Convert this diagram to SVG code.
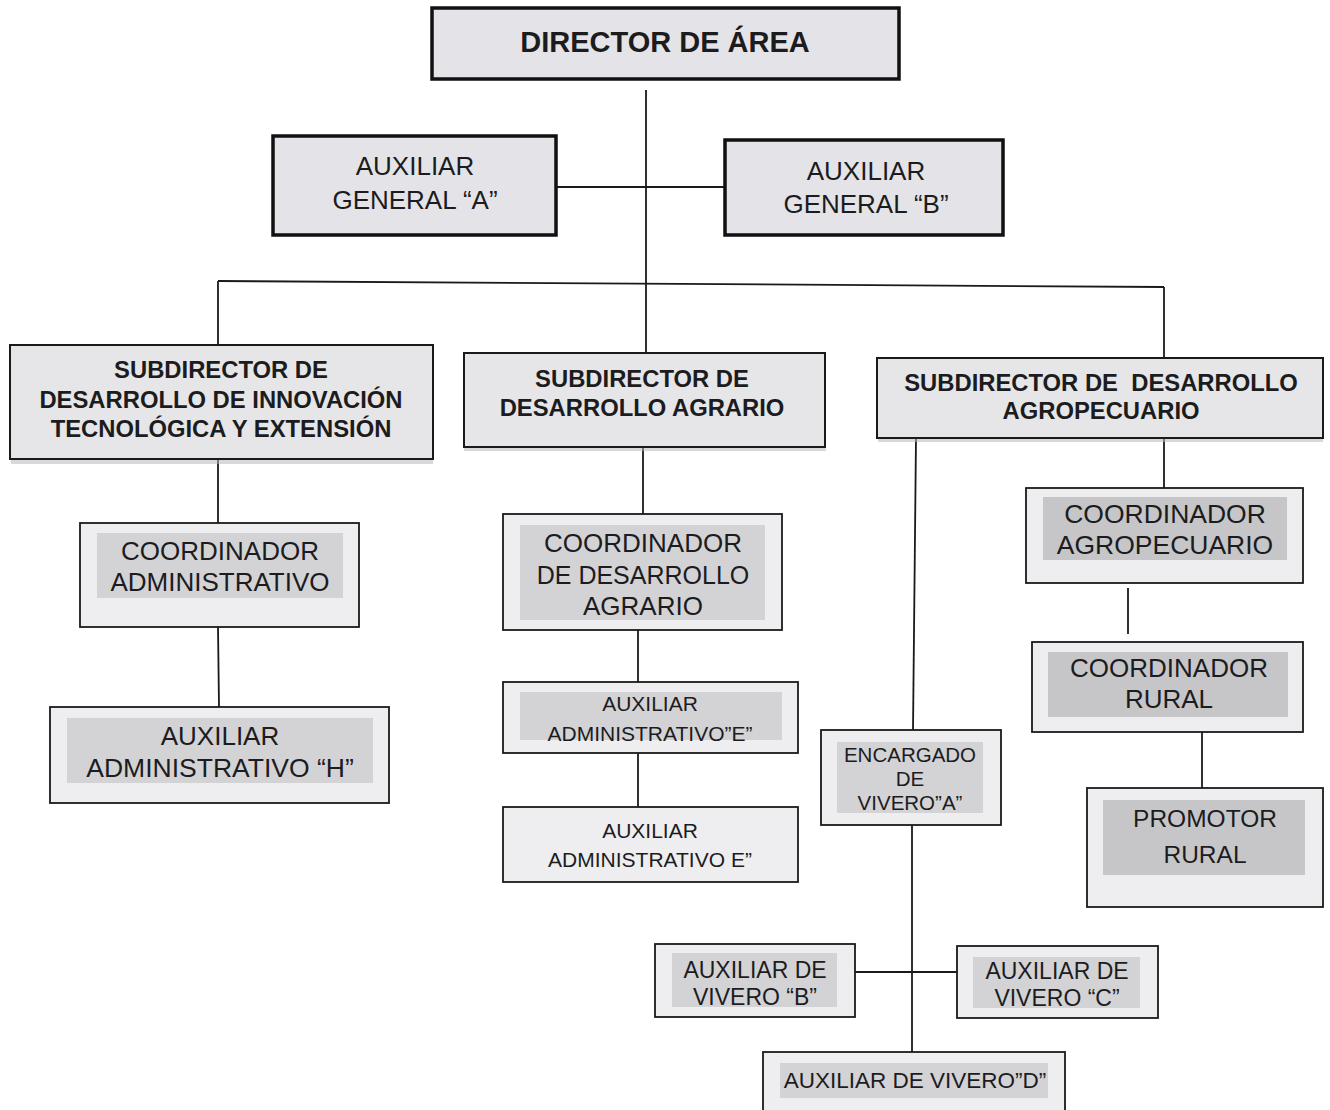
<svg xmlns="http://www.w3.org/2000/svg" width="1330" height="1110" viewBox="0 0 1330 1110">
  <style>
    text { font-family: "Liberation Sans", Arial, sans-serif; fill: #1c1c1e; text-anchor: middle; }
    .bold { font-weight: bold; }
    .box { fill: #eeeef0; stroke: #1a1a1a; stroke-width: 1.8; }
    .box-heavy { fill: #e4e4e8; stroke: #111; stroke-width: 3.5; }
    .box-sub { fill: #e6e6e8; stroke: #1a1a1a; stroke-width: 2; }
    .shade { fill: #b8b8bc; opacity: 0.55; }
    .inner { fill: #d3d3d6; }
    .inner-dark { fill: #c6c6c9; }
    .link { stroke: #1a1a1a; stroke-width: 1.8; fill: none; }
  </style>

  <rect width="1330" height="1110" fill="#ffffff"/>

  <!-- connectors -->
  <g id="connectors">
    <line class="link" x1="646" y1="90" x2="646" y2="353"/>
    <line class="link" x1="556" y1="187" x2="725" y2="187"/>
    <line class="link" x1="218" y1="281" x2="1164" y2="287"/>
    <line class="link" x1="218" y1="281" x2="218" y2="345"/>
    <line class="link" x1="1164" y1="287" x2="1164" y2="358"/>
    <!-- left branch -->
    <line class="link" x1="218" y1="460" x2="218" y2="523"/>
    <line class="link" x1="218" y1="627" x2="219" y2="707"/>
    <!-- middle branch -->
    <line class="link" x1="643" y1="447" x2="643" y2="514"/>
    <line class="link" x1="638" y1="630" x2="638" y2="682"/>
    <line class="link" x1="638" y1="753" x2="638" y2="807"/>
    <!-- right branch -->
    <line class="link" x1="1164" y1="438" x2="1164" y2="488"/>
    <line class="link" x1="1128" y1="588" x2="1128" y2="634" stroke-width="2.6"/>
    <line class="link" x1="1202" y1="732" x2="1202" y2="788"/>
    <line class="link" x1="916" y1="438" x2="913" y2="730"/>
    <line class="link" x1="912" y1="825" x2="912" y2="1052"/>
    <line class="link" x1="855" y1="972" x2="957" y2="972"/>
    <line class="link" x1="897" y1="972" x2="917" y2="972" stroke-width="3"/>
  </g>

  <!-- top level -->
  <g id="director">
    <rect class="box-heavy" x="432" y="8" width="467" height="71" fill="#dadade"/>
    <text class="bold" x="665" y="52" font-size="29">DIRECTOR DE ÁREA</text>
  </g>

  <g id="aux-general-a">
    <rect class="box-heavy" x="273" y="136" width="283" height="99" stroke-width="3"/>
    <text x="415" y="175" font-size="26">AUXILIAR</text>
    <text x="415" y="209" font-size="26">GENERAL “A”</text>
  </g>

  <g id="aux-general-b">
    <rect class="box-heavy" x="725" y="140" width="278" height="95" stroke-width="3"/>
    <text x="866" y="180" font-size="26">AUXILIAR</text>
    <text x="866" y="213" font-size="26">GENERAL “B”</text>
  </g>

  <!-- subdirectors -->
  <g id="sub-innovacion">
    <rect class="shade" x="11" y="459" width="422" height="5"/>
    <rect class="box-sub" x="10" y="345" width="423" height="114"/>
    <text class="bold" x="221" y="378" font-size="23.8">SUBDIRECTOR DE</text>
    <text class="bold" x="221" y="408" font-size="23.8">DESARROLLO DE INNOVACIÓN</text>
    <text class="bold" x="221" y="437" font-size="23.8">TECNOLÓGICA Y EXTENSIÓN</text>
  </g>

  <g id="sub-agrario">
    <rect class="shade" x="464" y="446" width="362" height="5"/>
    <rect class="box-sub" x="464" y="353" width="361" height="94"/>
    <text class="bold" x="642" y="387" font-size="23.8">SUBDIRECTOR DE</text>
    <text class="bold" x="642" y="416" font-size="23.8">DESARROLLO AGRARIO</text>
  </g>

  <g id="sub-agropecuario">
    <rect class="shade" x="878" y="437" width="445" height="5"/>
    <rect class="box-sub" x="877" y="358" width="446" height="80"/>
    <text class="bold" x="1101" y="391" font-size="23.8">SUBDIRECTOR DE&#160; DESARROLLO</text>
    <text class="bold" x="1101" y="419" font-size="23.8">AGROPECUARIO</text>
  </g>

  <!-- left column -->
  <g id="coord-administrativo">
    <rect class="box" x="80" y="523" width="279" height="104"/>
    <rect class="inner" x="97" y="533" width="246" height="65"/>
    <text x="220" y="560" font-size="26">COORDINADOR</text>
    <text x="220" y="591" font-size="26">ADMINISTRATIVO</text>
  </g>

  <g id="aux-admin-h">
    <rect class="box" x="50" y="707" width="339" height="96"/>
    <rect class="inner" x="67" y="718" width="306" height="65"/>
    <text x="220" y="745" font-size="26">AUXILIAR</text>
    <text x="220" y="777" font-size="26.5">ADMINISTRATIVO “H”</text>
  </g>

  <!-- middle column -->
  <g id="coord-des-agrario">
    <rect class="box" x="503" y="514" width="279" height="116"/>
    <rect class="inner" x="520" y="525" width="245" height="95"/>
    <text x="643" y="552" font-size="26">COORDINADOR</text>
    <text x="643" y="584" font-size="25">DE DESARROLLO</text>
    <text x="643" y="615" font-size="26">AGRARIO</text>
  </g>

  <g id="aux-admin-e1">
    <rect class="box" x="503" y="682" width="295" height="71"/>
    <rect class="inner" x="520" y="692" width="262" height="48"/>
    <text x="650" y="711" font-size="21">AUXILIAR</text>
    <text x="650" y="741" font-size="21">ADMINISTRATIVO”E”</text>
  </g>

  <g id="aux-admin-e2">
    <rect class="box" x="503" y="807" width="295" height="75" stroke-width="2.6"/>
    <text x="650" y="838" font-size="21">AUXILIAR</text>
    <text x="650" y="867" font-size="21">ADMINISTRATIVO E”</text>
  </g>

  <!-- right column -->
  <g id="coord-agropecuario">
    <rect class="box" x="1026" y="488" width="277" height="95"/>
    <rect class="inner-dark" x="1043" y="497" width="244" height="63"/>
    <text x="1165" y="523" font-size="26.5">COORDINADOR</text>
    <text x="1165" y="554" font-size="26.5">AGROPECUARIO</text>
  </g>

  <g id="coord-rural">
    <rect class="box" x="1032" y="642" width="271" height="90"/>
    <rect class="inner-dark" x="1048" y="652" width="240" height="65"/>
    <text x="1169" y="677" font-size="26">COORDINADOR</text>
    <text x="1169" y="708" font-size="26">RURAL</text>
  </g>

  <g id="promotor-rural">
    <rect class="box" x="1087" y="788" width="236" height="119"/>
    <rect class="inner-dark" x="1103" y="800" width="202" height="75"/>
    <text x="1205" y="827" font-size="24.5">PROMOTOR</text>
    <text x="1205" y="863" font-size="24.5">RURAL</text>
  </g>

  <!-- nursery branch -->
  <g id="encargado-vivero-a">
    <rect class="box" x="821" y="730" width="180" height="95"/>
    <rect class="inner" x="837" y="742" width="146" height="71"/>
    <text x="910" y="762" font-size="20.5">ENCARGADO</text>
    <text x="910" y="786" font-size="20.5">DE</text>
    <text x="910" y="810" font-size="20.5">VIVERO”A”</text>
  </g>

  <g id="aux-vivero-b">
    <rect class="box" x="655" y="944" width="200" height="73"/>
    <rect class="inner" x="672" y="953" width="165" height="54"/>
    <text x="755" y="978" font-size="23">AUXILIAR DE</text>
    <text x="755" y="1005" font-size="23">VIVERO “B”</text>
  </g>

  <g id="aux-vivero-c">
    <rect class="box" x="957" y="946" width="201" height="72"/>
    <rect class="inner" x="973" y="957" width="167" height="51"/>
    <text x="1057" y="979" font-size="23">AUXILIAR DE</text>
    <text x="1057" y="1006" font-size="23">VIVERO “C”</text>
  </g>

  <g id="aux-vivero-d">
    <rect class="box" x="763" y="1052" width="302" height="66"/>
    <rect class="inner" x="780" y="1063" width="268" height="35"/>
    <text x="915" y="1088" font-size="22.5">AUXILIAR DE VIVERO”D”</text>
  </g>
</svg>
